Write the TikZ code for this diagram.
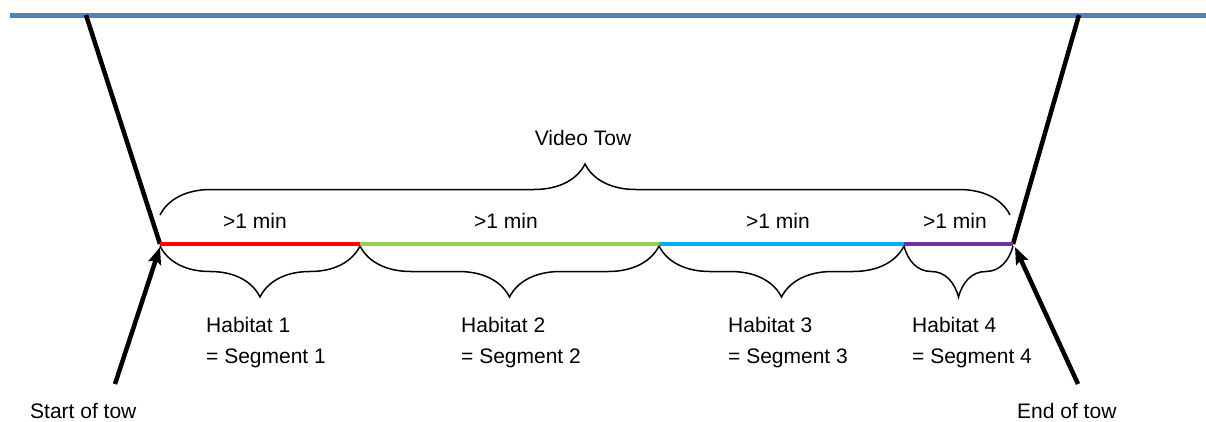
\documentclass[tikz,border=0pt]{standalone}
\usepackage{fontspec}
\setmainfont{Liberation Sans}
\usetikzlibrary{decorations.pathreplacing,arrows.meta}
\definecolor{topblue}{HTML}{4F81BD}
\definecolor{habred}{HTML}{FF0000}
\definecolor{habgreen}{HTML}{92D050}
\definecolor{habblue}{HTML}{00B0F0}
\definecolor{habpurple}{HTML}{7030A0}
\tikzset{
  lbl/.style={font=\fontsize{21}{31}\selectfont, inner sep=0pt},
  towline/.style={line width=4.5pt, black},
  towarrow/.style={line width=4.5pt, black, -{Stealth[length=17pt,width=13pt,inset=3pt]}},
  segline/.style={line width=4.5pt},
  bracedown/.style={draw, line width=1.5pt, decorate, decoration={brace, amplitude=51pt}},
  braceup/.style={draw, line width=1.5pt, decorate, decoration={brace, amplitude=51pt}},
}
\begin{document}
\begin{tikzpicture}[x=1pt, y={(0,-1pt)}]
\useasboundingbox (0,0) rectangle (1206,421);

% sea surface
\coordinate (bl) at (10,15.5);
\coordinate (br) at (1206,15.5);
\draw[topblue, line width=5pt] (bl) -- (br);

% along-track points
\coordinate (s)  at (160,244);
\coordinate (b1) at (360,244);
\coordinate (b2) at (659,244);
\coordinate (b3) at (904,244);
\coordinate (e)  at (1013,244);

% tow cables from the surface
\coordinate (tl) at (86,15);
\coordinate (tr) at (1079,15);
\draw[towline] (tl) -- (s);
\draw[towline] (tr) -- (e);

% habitat segments
\draw[segline, habred]    (s)  -- (b1);
\draw[segline, habgreen]  (b1) -- (b2);
\draw[segline, habblue]   (b2) -- (b3);
\draw[segline, habpurple] (b3) -- (e);

% start / end arrows
\coordinate (sa) at (115,384);
\coordinate (ea) at (1078,384);
\draw[towarrow] (sa) -- ([shift={(0,3)}]s);
\draw[towarrow] (ea) -- ([shift={(2,3)}]e);

% braces
\draw[braceup] (160,215) -- (1010,215);
\draw[bracedown] (360,246) -- (160,246);
\draw[bracedown] (659,246) -- (360,246);
\draw[bracedown] (904,246) -- (659,246);
\draw[bracedown] (1013,246) -- (904,246);

% labels
\node[lbl, anchor=base] (vt) at (583,145) {Video Tow};
\node[lbl, anchor=base] (m1) at (255,228) {>1 min};
\node[lbl, anchor=base] (m2) at (506,228) {>1 min};
\node[lbl, anchor=base] (m3) at (778,228) {>1 min};
\node[lbl, anchor=base] (m4) at (955,228) {>1 min};

\node[lbl, anchor=base west] (h1) at (206,332) {Habitat 1};
\node[lbl, anchor=base west] (g1) at (206,363) {= Segment 1};
\node[lbl, anchor=base west] (h2) at (461,332) {Habitat 2};
\node[lbl, anchor=base west] (g2) at (461,363) {= Segment 2};
\node[lbl, anchor=base west] (h3) at (728,332) {Habitat 3};
\node[lbl, anchor=base west] (g3) at (728,363) {= Segment 3};
\node[lbl, anchor=base west] (h4) at (912,332) {Habitat 4};
\node[lbl, anchor=base west] (g4) at (912,363) {= Segment 4};

\node[lbl, anchor=base west] (st) at (30,418) {Start of tow};
\node[lbl, anchor=base west] (et) at (1017,418) {End of tow};
\end{tikzpicture}
\end{document}
